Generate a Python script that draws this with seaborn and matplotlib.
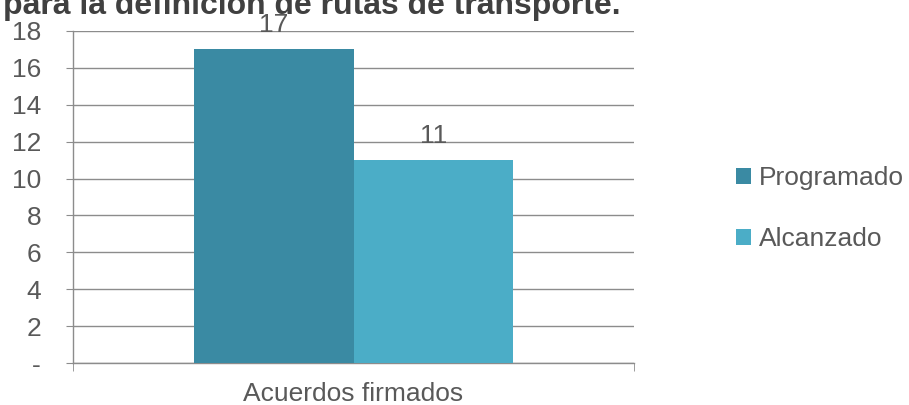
import pandas as pd
import matplotlib.pyplot as plt
import seaborn as sns

categories = ['Acuerdos firmados']
series = ['Programado', 'Alcanzado']
values = [17, 11]
colors = ['#3A8AA3', '#4BADC7']
yticks = [0, 2, 4, 6, 8, 10, 12, 14, 16, 18]
ytick_labels = ['-', '2', '4', '6', '8', '10', '12', '14', '16', '18']
title = 'para la definición de rutas de transporte.'

sns.set_style('white')
plt.rcParams['font.family'] = ['Liberation Sans', 'DejaVu Sans']

df = pd.DataFrame({
    'categoria': categories * len(series),
    'serie': series,
    'valor': values,
})

fig = plt.figure(figsize=(9.09, 4.05), dpi=100)
ax = fig.add_axes([0.0803, 0.1037, 0.6172, 0.8198])

grid_col = '#8C8C8C'
text_col = '#595959'

sns.barplot(data=df, x='categoria', y='valor', hue='serie', palette=colors,
            width=0.57, saturation=1, linewidth=0, ax=ax, zorder=3)

for cont in ax.containers:
    ax.bar_label(cont, fmt='%d', padding=9, fontsize=19, color=text_col)

ax.set_ylim(0, 18)
ax.set_xlim(-0.5, 0.5)
ax.set_yticks(yticks)
ax.set_yticklabels(ytick_labels)
ax.yaxis.grid(True, color=grid_col, linewidth=1, zorder=0)
ax.set_axisbelow(True)
ax.tick_params(axis='y', length=5, color=grid_col, labelsize=19, labelcolor=text_col,
               left=True, pad=18)
ax.tick_params(axis='x', which='major', length=0, labelsize=19, labelcolor=text_col, pad=14)
ax.set_xticks([-0.5, 0.5], minor=True)
ax.tick_params(axis='x', which='minor', length=6, color=grid_col, bottom=True)
ax.set_xlabel('')
ax.set_ylabel('')

for side in ['top', 'right']:
    ax.spines[side].set_visible(False)
for side in ['left', 'bottom']:
    ax.spines[side].set_color(grid_col)
    ax.spines[side].set_linewidth(1)

handles, labels = ax.get_legend_handles_labels()
ax.legend(handles, labels, loc='center left', bbox_to_anchor=(1.14, 0.465),
          frameon=False, fontsize=19, labelcolor=text_col,
          handlelength=0.55, handleheight=0.55, handletextpad=0.3, labelspacing=1.4)

fig.text(0.003, 1 - 14 / 405, title, fontsize=23, fontweight='bold',
         color='#404040', va='baseline', ha='left')

fig.savefig('out.png', dpi=100)
